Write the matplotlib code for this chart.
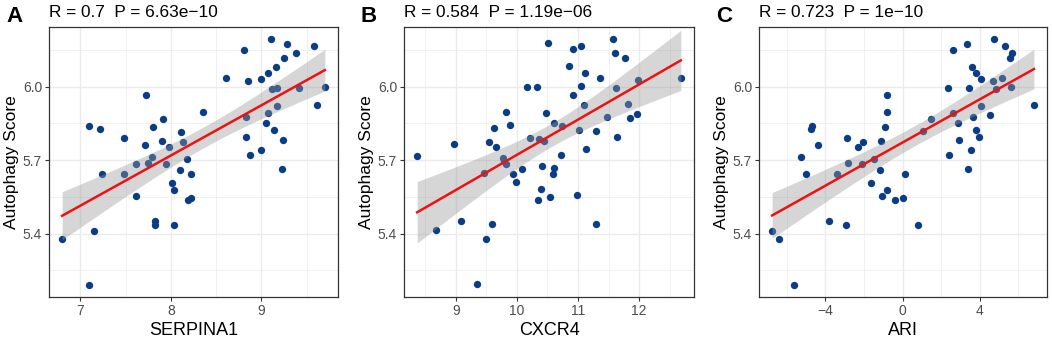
import matplotlib
matplotlib.use("Agg")
import matplotlib.pyplot as plt
import numpy as np

plt.rcParams["font.family"] = ["Liberation Sans", "DejaVu Sans"]

# autophagy score per sample, with the three predictors
score_a = [5.376, 5.191, 5.839, 5.409, 5.828, 5.642, 5.788, 5.642, 5.685, 5.554,
           5.762, 5.964, 5.688, 5.714, 5.836, 5.451, 5.435, 5.869, 5.776, 5.682,
           5.753, 5.607, 5.578, 5.435, 5.659, 5.815, 5.772, 5.705, 5.535, 5.641,
           5.547, 5.895, 6.035, 6.150, 5.876, 5.795, 6.024, 5.719, 5.741, 6.032,
           5.851, 5.891, 6.057, 6.193, 5.991, 5.823, 6.081, 5.995, 5.922, 5.664,
           5.782, 6.116, 6.174, 6.135, 5.996, 6.164, 5.926, 5.999]
serpina1 = [6.80, 7.10, 7.10, 7.15, 7.22, 7.24, 7.48, 7.48, 7.61, 7.61,
            7.72, 7.73, 7.75, 7.79, 7.80, 7.82, 7.82, 7.91, 7.90, 7.95,
            7.98, 8.01, 8.03, 8.03, 8.10, 8.11, 8.13, 8.18, 8.19, 8.22,
            8.22, 8.36, 8.61, 8.81, 8.83, 8.83, 8.85, 8.87, 9.00, 9.00,
            9.05, 9.07, 9.07, 9.11, 9.12, 9.14, 9.16, 9.17, 9.17, 9.23,
            9.24, 9.25, 9.28, 9.38, 9.42, 9.58, 9.61, 9.70]

cxcr4 = [8.37, 8.68, 8.97, 9.09, 9.35, 9.47, 9.49, 9.55, 9.60, 9.63,
         9.66, 9.78, 9.79, 9.83, 9.83, 9.88, 9.93, 9.99, 10.09, 10.16,
         10.21, 10.33, 10.35, 10.36, 10.39, 10.41, 10.45, 10.47, 10.51, 10.54,
         10.59, 10.61, 10.61, 10.72, 10.74, 10.86, 10.91, 10.92, 10.99, 11.01,
         11.04, 11.05, 11.10, 11.12, 11.13, 11.29, 11.29, 11.36, 11.47, 11.57,
         11.61, 11.62, 11.64, 11.77, 11.82, 11.85, 11.97, 11.98, 12.68]
score_b = [5.715, 5.413, 5.764, 5.452, 5.195, 5.646, 5.379, 5.774, 5.439, 5.831,
           5.755, 5.710, 5.697, 5.685, 5.897, 5.841, 5.644, 5.609, 5.662, 5.997,
           5.789, 5.997, 5.538, 5.785, 5.582, 5.677, 5.777, 5.894, 6.176, 5.551,
           5.643, 5.668, 5.852, 5.721, 5.838, 6.082, 5.967, 6.152, 5.557, 5.823,
           6.001, 6.165, 5.925, 6.057, 5.747, 5.817, 5.439, 6.034, 5.877, 6.195,
           6.136, 5.992, 5.796, 6.118, 5.928, 5.872, 5.886, 6.027, 6.035]

ari = [-6.75, -6.37, -5.63, -5.27, -5.00, -4.76, -4.69, -4.38, -3.80, -3.39,
       -2.90, -2.88, -2.82, -2.32, -2.10, -2.03, -1.45, -1.62, -1.16, -1.13,
       -1.06, -0.92, -0.80, -0.80, -0.78, -0.39, 0.03, 0.12, 0.78, 1.07,
       1.45, 2.35, 2.42, 2.61, 2.59, 2.85, 2.92, 3.33, 3.38, 3.45,
       3.57, 3.62, 3.67, 3.82, 3.82, 3.97, 4.04, 4.08, 4.52, 4.67,
       4.76, 4.86, 5.15, 5.30, 5.54, 5.68, 5.63, 6.80]
score_c = [5.409, 5.376, 5.191, 5.714, 5.642, 5.828, 5.839, 5.762, 5.450, 5.642,
           5.435, 5.788, 5.688, 5.753, 5.682, 5.772, 5.705, 5.607, 5.659, 5.776,
           5.554, 5.836, 5.578, 5.964, 5.895, 5.535, 5.547, 5.641, 5.435, 5.818,
           5.869, 5.995, 5.719, 6.150, 5.891, 5.851, 5.782, 6.174, 5.664, 5.996,
           5.741, 6.081, 5.876, 6.057, 5.823, 5.795, 6.032, 5.922, 5.882, 6.024,
           6.193, 5.991, 6.035, 6.164, 6.116, 6.135, 5.999, 5.926]

panels = [
    ("A", "R = 0.7  P = 6.63e\u221210", "SERPINA1", serpina1, score_a,
     [7, 8, 9], [6.5, 7.5, 8.5, 9.5], ["7", "8", "9"]),
    ("B", "R = 0.584  P = 1.19e\u221206", "CXCR4", cxcr4, score_b,
     [9, 10, 11, 12], [8.5, 9.5, 10.5, 11.5, 12.5], ["9", "10", "11", "12"]),
    ("C", "R = 0.723  P = 1e\u221210", "ARI", ari, score_c,
     [-4, 0, 4], [-6, -2, 2, 6], ["\u22124", "0", "4"]),
]

# axes boxes in pixels: left, right
boxes = [(49, 338), (404, 694), (759, 1047)]
W, H = 1052, 338
top, bottom = 27, 297

fig = plt.figure(figsize=(W / 100, H / 100), dpi=100)

for (lab, title, xlab, xs, ys, xt, xm, xtl), (l, r) in zip(panels, boxes):
    ax = fig.add_axes([l / W, 1 - bottom / H, (r - l) / W, (bottom - top) / H])
    x = np.array(xs)
    y = np.array(ys)
    n = len(x)
    b, a = np.polyfit(x, y, 1)
    xx = np.linspace(x.min(), x.max(), 100)
    yy = a + b * xx
    res = y - (a + b * x)
    s = np.sqrt(np.sum(res ** 2) / (n - 2))
    se = s * np.sqrt(1 / n + (xx - x.mean()) ** 2 / np.sum((x - x.mean()) ** 2))
    t = 2.003

    ax.scatter(x, y, s=28, color="#0B3C87", linewidths=0, zorder=2)
    ax.fill_between(xx, yy - t * se, yy + t * se, color="#999999", alpha=0.4,
                    linewidth=0, zorder=3)
    ax.plot(xx, yy, color="#EE1111", lw=1.8, zorder=4)

    ax.set_ylim(5.141, 6.243)
    ax.set_yticks([5.4, 5.7, 6.0])
    ax.set_yticklabels(["5.4", "5.7", "6.0"])
    ax.set_yticks([5.25, 5.55, 5.85, 6.15], minor=True)
    ax.set_xticks(xt)
    ax.set_xticklabels(xtl)
    ax.set_xticks(xm, minor=True)
    ax.set_xlim(x.min() - 0.05 * np.ptp(x), x.max() + 0.05 * np.ptp(x))

    ax.grid(which="major", color="#EBEBEB", lw=1.0, zorder=0)
    ax.grid(which="minor", color="#EBEBEB", lw=0.5, zorder=0)
    ax.set_axisbelow(True)
    for sp in ax.spines.values():
        sp.set_color("#333333")
        sp.set_linewidth(0.9)
    ax.tick_params(which="major", length=3, width=0.8, color="#333333",
                   labelsize=10, labelcolor="#4D4D4D", pad=2)
    ax.tick_params(which="minor", length=0)
    ax.set_xlabel(xlab, fontsize=13, labelpad=3)
    ax.set_ylabel("Autophagy Score", fontsize=12.5, labelpad=3)
    ax.text(0, 1.025, title, transform=ax.transAxes, ha="left", va="bottom",
            fontsize=12.4)
    fig.text((l - 43) / W, 1 - 16 / H, lab, fontsize=16, fontweight="bold",
             ha="left", va="center")

fig.savefig("out.png", dpi=100)
